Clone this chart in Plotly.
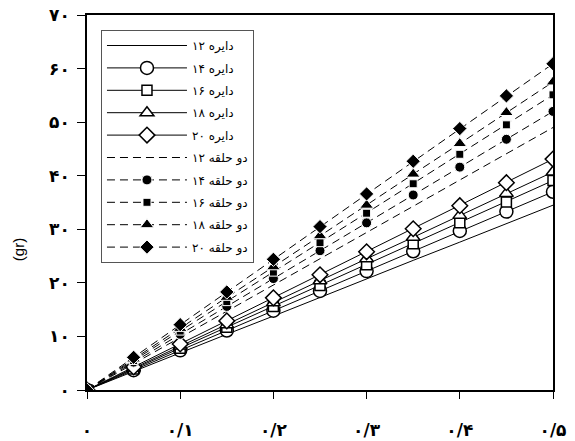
import plotly.graph_objects as go

# ---- data ----
x_vals = [0, 0.05, 0.1, 0.15, 0.2, 0.25, 0.3, 0.35, 0.4, 0.45, 0.5]

circle_12 = [0, 3.5, 6.9, 10.4, 13.8, 17.3, 20.7, 24.2, 27.6, 31.1, 34.5]
circle_14 = [0, 3.7, 7.4, 11.1, 14.8, 18.5, 22.2, 25.9, 29.7, 33.3, 37.0]
circle_16 = [0, 3.9, 7.8, 11.7, 15.6, 19.5, 23.4, 27.3, 31.2, 35.1, 39.1]
circle_18 = [0, 4.1, 8.2, 12.2, 16.3, 20.4, 24.5, 28.5, 32.6, 36.7, 40.7]
circle_20 = [0, 4.3, 8.6, 12.9, 17.2, 21.5, 25.8, 30.1, 34.4, 38.7, 43.1]

ring_12 = [0, 4.9, 9.8, 14.7, 19.6, 24.5, 29.4, 34.3, 39.2, 44.1, 49.0]
ring_14 = [0, 5.2, 10.4, 15.6, 20.8, 26.0, 31.2, 36.4, 41.6, 46.8, 52.0]
ring_16 = [0, 5.5, 11.0, 16.5, 22.0, 27.5, 33.0, 38.5, 44.0, 49.5, 55.1]
ring_18 = [0, 5.8, 11.5, 17.3, 23.0, 28.8, 34.5, 40.3, 46.0, 51.8, 57.5]
ring_20 = [0, 6.1, 12.2, 18.3, 24.4, 30.5, 36.6, 42.7, 48.8, 54.9, 60.9]

names_circle = ["دایره ۱۲", "دایره ۱۴", "دایره ۱۶", "دایره ۱۸", "دایره ۲۰"]
names_ring = ["دو حلقه ۱۲", "دو حلقه ۱۴", "دو حلقه ۱۶", "دو حلقه ۱۸", "دو حلقه ۲۰"]

x_tickvals = [0, 0.1, 0.2, 0.3, 0.4, 0.5]
x_ticktext = ["۰", "۰/۱", "۰/۲", "۰/۳", "۰/۴", "۰/۵"]
y_tickvals = [0, 10, 20, 30, 40, 50, 60, 70]
y_ticktext = ["۰", "۱۰", "۲۰", "۳۰", "۴۰", "۵۰", "۶۰", "۷۰"]

# ---- styles ----
circle_series = [circle_12, circle_14, circle_16, circle_18, circle_20]
ring_series = [ring_12, ring_14, ring_16, ring_18, ring_20]
open_markers = [None, ("circle", 13), ("square", 10), ("triangle-up", 12), ("diamond", 12)]
filled_markers = [None, ("circle", 10), ("square", 8), ("triangle-up", 12), ("diamond", 11)]

fig = go.Figure()

for i, (ys, nm) in enumerate(zip(circle_series, names_circle)):
    mk = open_markers[i]
    if mk is None:
        fig.add_trace(go.Scatter(x=x_vals, y=ys, name=nm, mode="lines",
                                 line=dict(color="black", width=1), legendgroup="c%d" % i))
    else:
        fig.add_trace(go.Scatter(x=x_vals, y=ys, name=nm, mode="lines+markers",
                                 line=dict(color="black", width=1),
                                 marker=dict(symbol=mk[0], size=mk[1], color="white",
                                             line=dict(color="black", width=1.5)),
                                 legendgroup="c%d" % i))

for i, (ys, nm) in enumerate(zip(ring_series, names_ring)):
    mk = filled_markers[i]
    if mk is None:
        fig.add_trace(go.Scatter(x=x_vals, y=ys, name=nm, mode="lines",
                                 line=dict(color="black", width=1, dash="8px,5px"),
                                 legendgroup="r%d" % i))
    else:
        fig.add_trace(go.Scatter(x=x_vals, y=ys, name=nm, mode="lines+markers",
                                 line=dict(color="black", width=1, dash="8px,5px"),
                                 marker=dict(symbol=mk[0], size=mk[1], color="black",
                                             line=dict(color="white", width=1)),
                                 legendgroup="r%d" % i))

tick_font = dict(family="DejaVu Sans", size=17, color="black")

fig.update_layout(
    width=575, height=441,
    margin=dict(l=87, r=22, t=15, b=51, pad=0),
    paper_bgcolor="white", plot_bgcolor="white",
    showlegend=True,
    legend=dict(x=0.03, y=0.96, xanchor="left", yanchor="top",
                bgcolor="white", bordercolor="#555555", borderwidth=1,
                font=dict(family="DejaVu Sans", size=12, color="black"),
                tracegroupgap=3.4, itemwidth=80, traceorder="grouped"),
    xaxis=dict(range=[0, 0.5], tickvals=x_tickvals,
               ticktext=["<b>%s</b>" % t for t in x_ticktext],
               showgrid=False, zeroline=False, showline=True, mirror=True,
               linecolor="black", linewidth=1.5, ticks="outside", ticklen=7,
               tickcolor="black", tickwidth=1, tickfont=tick_font,
               ticklabelstandoff=17, automargin=False),
    yaxis=dict(range=[0, 70], tickvals=y_tickvals,
               ticktext=["<b>%s</b>" % t for t in y_ticktext],
               showgrid=False, zeroline=False, showline=True, mirror=True,
               linecolor="black", linewidth=1.5, ticks="outside", ticklen=8,
               tickcolor="black", tickwidth=1, tickfont=tick_font,
               ticklabelstandoff=4, automargin=False),
    annotations=[dict(text="(gr)", xref="paper", yref="paper", x=-0.148, y=0.373,
                      xanchor="center", yanchor="middle", textangle=-90, showarrow=False,
                      font=dict(family="Liberation Sans", size=15, color="black"))],
)

fig.write_html("out.html", config={"displayModeBar": False},
               post_script="document.body.style.margin='0px';document.body.style.padding='0px';")
